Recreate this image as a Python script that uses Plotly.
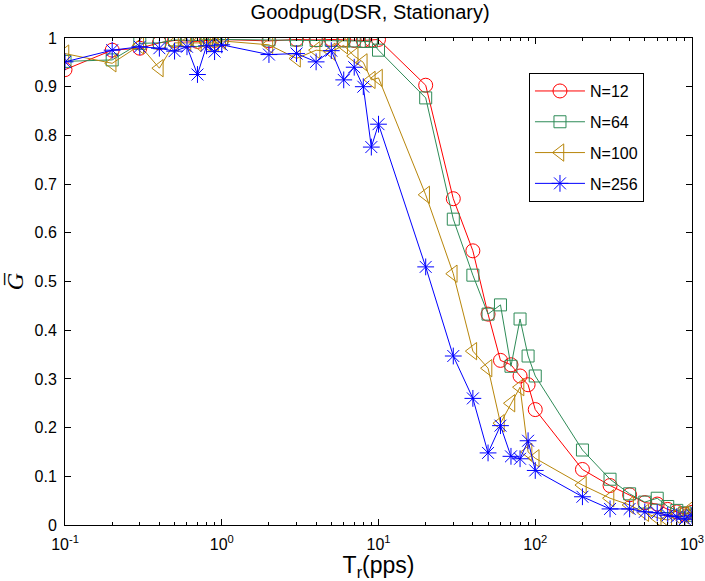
import plotly.graph_objects as go

# Offered rate T_r (packets per second)
rate = [0.1, 0.2, 0.3, 0.4, 0.5, 0.6, 0.7, 0.8, 0.9, 1,
        2, 3, 4, 5, 6, 7, 8, 9, 10,
        20, 30, 40, 50, 60, 70, 80, 90, 100,
        200, 300, 400, 500, 600, 700, 800, 900, 1000]

# Normalised goodput for each network size
g_n12 = [0.935, 0.975, 0.979, 0.990, 0.995, 0.994, 0.993, 0.995, 0.995, 0.997,
         0.994, 0.997, 0.996, 0.997, 0.996, 0.995, 0.995, 0.996, 0.997,
         0.903, 0.670, 0.563, 0.433, 0.338, 0.329, 0.306, 0.288, 0.237,
         0.114, 0.081, 0.062, 0.046, 0.043, 0.032, 0.027, 0.022, 0.026]
g_n64 = [0.952, 0.955, 0.989, 0.990, 0.996, 0.995, 0.995, 0.997, 0.996, 0.997,
         0.996, 0.996, 0.995, 0.995, 0.994, 0.994, 0.993, 0.993, 0.975,
         0.877, 0.628, 0.513, 0.433, 0.452, 0.326, 0.423, 0.347, 0.306,
         0.154, 0.094, 0.064, 0.047, 0.055, 0.038, 0.030, 0.025, 0.020]
g_n100 = [0.968, 0.948, 0.985, 0.938, 0.990, 0.990, 0.990, 0.990, 0.990, 0.994,
          0.986, 0.958, 0.975, 0.972, 0.985, 0.963, 0.950, 0.914, 0.918,
          0.678, 0.516, 0.357, 0.322, 0.209, 0.250, 0.283, 0.150, 0.137,
          0.082, 0.055, 0.041, 0.025, 0.015, 0.010, 0.020, 0.020, 0.035]
g_n256 = [0.951, 0.975, 0.982, 0.979, 0.973, 0.982, 0.925, 0.984, 0.972, 0.986,
          0.966, 0.968, 0.951, 0.974, 0.914, 0.940, 0.900, 0.776, 0.823,
          0.530, 0.347, 0.260, 0.148, 0.204, 0.141, 0.136, 0.173, 0.112,
          0.058, 0.033, 0.033, 0.027, 0.025, 0.020, 0.017, 0.012, 0.020]

series_names = ["N=12", "N=64", "N=100", "N=256"]
series_values = [g_n12, g_n64, g_n100, g_n256]
series_colors = ["#ff0000", "#2e8b57", "#b8860b", "#0000ff"]
series_symbols = ["circle-open", "square-open", "triangle-left-open", "asterisk-open"]
series_sizes = [14, 12, 15, 14]

x_tick_vals = [0.1, 1, 10, 100, 1000]
x_tick_text = ["10<sup>-1</sup>", "10<sup>0</sup>", "10<sup>1</sup>",
               "10<sup>2</sup>", "10<sup>3</sup>"]
y_tick_vals = [0, 0.1, 0.2, 0.3, 0.4, 0.5, 0.6, 0.7, 0.8, 0.9, 1]
y_tick_text = ["0", "0.1", "0.2", "0.3", "0.4", "0.5", "0.6", "0.7", "0.8", "0.9", "1"]

FONT = "Liberation Sans, Arial, Helvetica, sans-serif"

fig = go.Figure()
for name, vals, col, sym, sz in zip(series_names, series_values, series_colors,
                                    series_symbols, series_sizes):
    fig.add_trace(go.Scatter(
        x=rate, y=vals, name=name, legendgroup=name,
        mode="lines+markers",
        line=dict(color=col, width=1),
        marker=dict(symbol=sym, size=sz, color=col, line=dict(color=col, width=1)),
    ))

minor_vals = [m * 10 ** e for e in range(-1, 3) for m in range(2, 10)]

fig.update_layout(
    width=705, height=581,
    margin=dict(l=65, r=13, t=38, b=56, autoexpand=False),
    paper_bgcolor="white", plot_bgcolor="white",
    font=dict(family=FONT, color="black", size=15),
    title=dict(text="Goodpug(DSR, Stationary)", x=0.525, xanchor="center",
               y=0.979, yanchor="middle", font=dict(size=20)),
    showlegend=True,
    legend=dict(x=0.74, y=0.928, xanchor="left", yanchor="top",
                bordercolor="black", borderwidth=1, bgcolor="white",
                font=dict(size=16), traceorder="grouped", tracegroupgap=7,
                itemwidth=50),
)

fig.update_xaxes(
    type="log", range=[-1, 3], automargin=False,
    tickmode="array", tickvals=x_tick_vals, ticktext=x_tick_text,
    ticks="inside", ticklen=6, tickwidth=1, tickcolor="black",
    minor=dict(tickmode="array", tickvals=minor_vals, ticks="inside",
               ticklen=3, tickwidth=1, tickcolor="black", showgrid=False),
    showline=True, linecolor="black", linewidth=1, mirror="ticks",
    showgrid=False, zeroline=False,
    tickfont=dict(size=16), ticklabelstandoff=5,
    title=dict(text="T<sub>r</sub>(pps)", font=dict(size=23), standoff=5),
)
fig.update_yaxes(
    range=[0, 1], automargin=False,
    tickmode="array", tickvals=y_tick_vals, ticktext=y_tick_text,
    ticks="inside", ticklen=6, tickwidth=1, tickcolor="black",
    showline=True, linecolor="black", linewidth=1, mirror="ticks",
    showgrid=False, zeroline=False,
    tickfont=dict(size=16), ticklabelstandoff=4,
    title=dict(text="<i>G\u0305</i>",
               font=dict(size=24, family="Liberation Serif, DejaVu Serif, serif"),
               standoff=4),
)

fig.write_html("out.html")
